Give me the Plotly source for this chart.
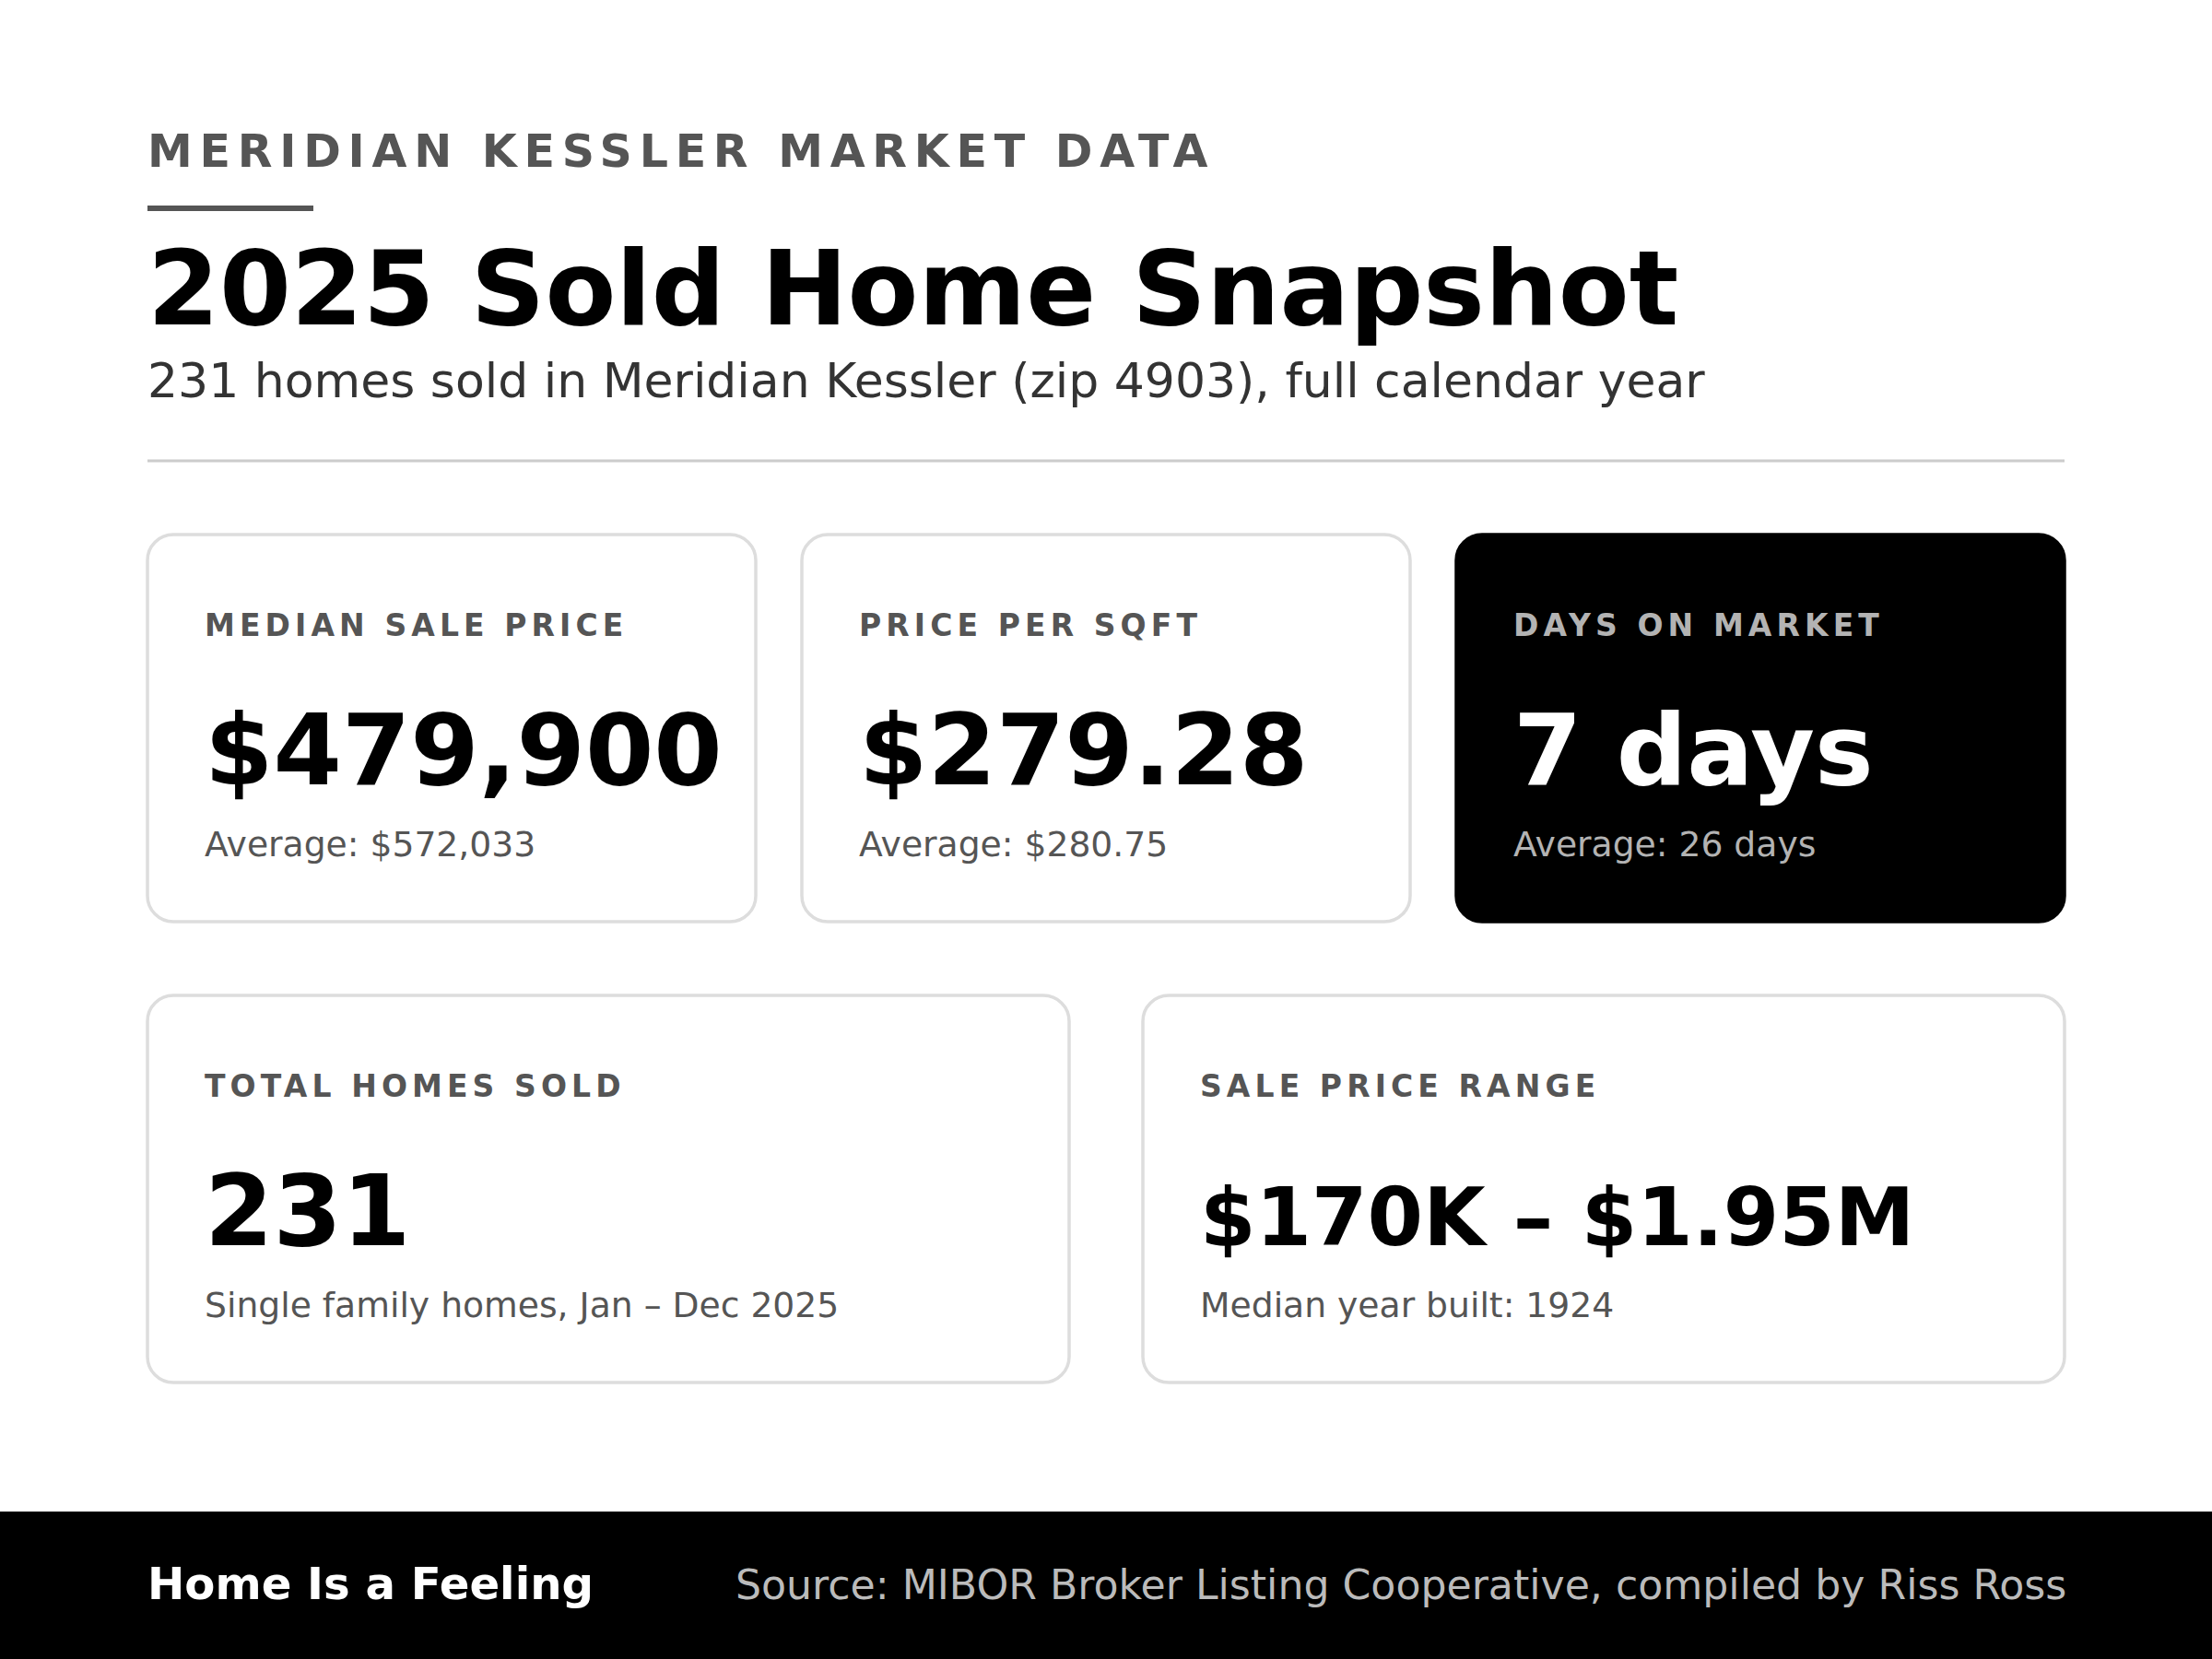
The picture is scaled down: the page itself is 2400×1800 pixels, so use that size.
import plotly.graph_objects as go

W, H = 2400, 1800

# ---- content ----
eyebrow = "MERIDIAN KESSLER MARKET DATA"
title = "2025 Sold Home Snapshot"
subtitle = "231 homes sold in Meridian Kessler (zip 4903), full calendar year"

card_labels = ["MEDIAN SALE PRICE", "PRICE PER SQFT", "DAYS ON MARKET",
               "TOTAL HOMES SOLD", "SALE PRICE RANGE"]
card_values = ["$479,900", "$279.28", "7 days", "231", "$170K – $1.95M"]
card_notes = ["Average: $572,033", "Average: $280.75", "Average: 26 days",
              "Single family homes, Jan – Dec 2025", "Median year built: 1924"]
card_dark = [False, False, True, False, False]

footer_left = "Home Is a Feeling"
footer_right = "Source: MIBOR Broker Listing Cooperative, compiled by Riss Ross"

# ---- layout geometry (pixels, y down) ----
LEFT, RIGHT = 160, 2240
row1_top, row1_bot = 580, 1000
row2_top, row2_bot = 1080, 1500
card_boxes = [
    (160, row1_top, 820, row1_bot),
    (870, row1_top, 1530, row1_bot),
    (1580, row1_top, 2240, row1_bot),
    (160, row2_top, 1160, row2_bot),
    (1240, row2_top, 2240, row2_bot),
]
value_sizes = [107, 107, 107, 107, 87]

FONT = "DejaVu Sans"


def px(x):
    return x / W


def py(y):
    return 1 - y / H


def rrect(x0, y0, x1, y1, r):
    k = 0.5523 * r
    pts = [
        f"M{px(x0 + r)},{py(y0)}",
        f"L{px(x1 - r)},{py(y0)}",
        f"C{px(x1 - r + k)},{py(y0)} {px(x1)},{py(y0 + r - k)} {px(x1)},{py(y0 + r)}",
        f"L{px(x1)},{py(y1 - r)}",
        f"C{px(x1)},{py(y1 - r + k)} {px(x1 - r + k)},{py(y1)} {px(x1 - r)},{py(y1)}",
        f"L{px(x0 + r)},{py(y1)}",
        f"C{px(x0 + r - k)},{py(y1)} {px(x0)},{py(y1 - r + k)} {px(x0)},{py(y1 - r)}",
        f"L{px(x0)},{py(y0 + r)}",
        f"C{px(x0)},{py(y0 + r - k)} {px(x0 + r - k)},{py(y0)} {px(x0 + r)},{py(y0)}",
        "Z",
    ]
    return " ".join(pts)


annotations = []


def text(x, baseline, s, size, color, bold=False, anchor="left", spacing=None):
    if spacing is not None:
        s = f'<span style="letter-spacing:{spacing}px">{s}</span>'
    annotations.append(dict(
        x=px(x), y=py(baseline - 0.346 * size), xref="paper", yref="paper",
        text=s, showarrow=False, xanchor=anchor, yanchor="middle",
        borderpad=0, align=anchor,
        font=dict(family=FONT, size=size, color=color,
                  weight="bold" if bold else "normal"),
    ))


shapes = []
TX = LEFT - 1.5

# header
text(TX, 181, eyebrow, 49, "#555555", bold=True, spacing=7.75)
shapes.append(dict(type="rect", xref="paper", yref="paper",
                   x0=px(160), x1=px(340), y0=py(223), y1=py(229),
                   fillcolor="#555555", line=dict(width=0)))
text(TX, 352, title, 112, "#000000", bold=True)
text(TX, 431, subtitle, 52, "#333333")
shapes.append(dict(type="line", xref="paper", yref="paper",
                   x0=px(LEFT), x1=px(RIGHT), y0=py(500), y1=py(500),
                   line=dict(color="#cccccc", width=3)))

# cards
for (x0, y0, x1, y1), lab, val, note, dark, vs in zip(
        card_boxes, card_labels, card_values, card_notes, card_dark, value_sizes):
    shapes.append(dict(
        type="path", xref="paper", yref="paper", path=rrect(x0, y0, x1, y1, 28),
        fillcolor="#000000" if dark else "#ffffff",
        line=dict(color="#000000" if dark else "#dddddd", width=3.5),
    ))
    tx = x0 + 60.5
    text(tx, y0 + 110, lab, 33, "#b3b3b3" if dark else "#555555", bold=True, spacing=5.1)
    text(tx, y0 + 271, val, vs, "#ffffff" if dark else "#000000", bold=True)
    text(tx, y0 + 349, note, 37.7, "#b3b3b3" if dark else "#555555")

# footer
shapes.append(dict(type="rect", xref="paper", yref="paper",
                   x0=0, x1=1, y0=0, y1=py(1640),
                   fillcolor="#000000", line=dict(width=0)))
text(TX, 1735, footer_left, 48.2, "#ffffff", bold=True)
text(RIGHT + 3, 1735, footer_right, 44.2, "#bbbbbb", anchor="right")

fig = go.Figure()
fig.update_layout(
    width=W, height=H,
    margin=dict(l=0, r=0, t=0, b=0),
    paper_bgcolor="#ffffff", plot_bgcolor="#ffffff",
    xaxis=dict(visible=False, range=[0, 1], fixedrange=True),
    yaxis=dict(visible=False, range=[0, 1], fixedrange=True),
    shapes=shapes, annotations=annotations, showlegend=False,
)
fig.write_html("out.html", config=dict(displayModeBar=False),
               post_script="document.body.style.margin='0';")
